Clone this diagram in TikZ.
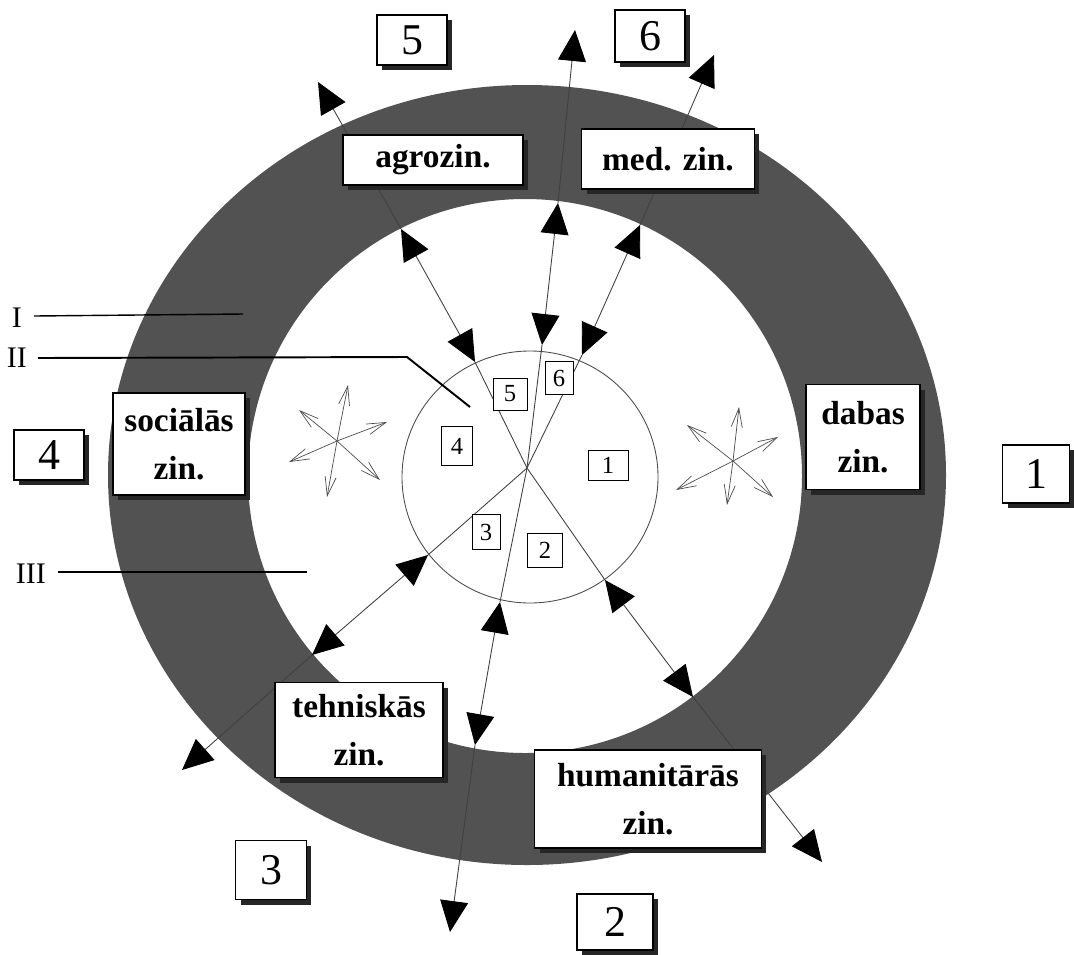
\documentclass[tikz,border=0pt]{standalone}
\usepackage{fontspec}
\setmainfont{Liberation Serif}
\usepackage{tikz}
\usetikzlibrary{arrows.meta,shadows}

\tikzset{
  tri/.tip={Triangle[length=0.62cm, width=0.56cm, color=black]},
  barb/.tip={Straight Barb[length=0.38cm, width=0.22cm]}
}

\begin{document}
\begin{tikzpicture}[x=0.02cm, y=-0.02cm,
  zinbox/.style={draw, fill=white, line width=0.6pt, align=center, inner sep=2pt,
    font=\fontsize{19}{27}\selectfont\bfseries,
    drop shadow={shadow xshift=0.1cm, shadow yshift=-0.1cm, opacity=1, fill=black!85}},
  numbox/.style={zinbox, font=\fontsize{25}{28}\selectfont},
  sectbox/.style={draw, fill=white, line width=0.5pt, inner sep=1pt,
    font=\fontsize{14}{16}\selectfont},
  ray/.style={line width=0.5pt, black!75},
  starray/.style={-barb, line width=0.4pt, black!70},
  roman/.style={font=\fontsize{17}{19}\selectfont}]
  \useasboundingbox (0,0) rectangle (1074,954);

  % Ring (I) between outer ellipse and inner white field
  \fill[black!68, even odd rule] (527,475) ellipse [x radius=419, y radius=390]
    (525,476) circle [radius=277];

  % Inner circle (II)
  \draw[line width=0.5pt, black!70] (530,477) ellipse [x radius=128, y radius=126];

  % Rays from the centre: circle tip, inner edge tip, outer end
  \coordinate (ctr) at (527,468);
  \coordinate (cA) at (475,362); \coordinate (mA) at (401,229); \coordinate (eA) at (318,82);
  \coordinate (cB) at (542,345); \coordinate (mB) at (558,203); \coordinate (eB) at (575,30);
  \coordinate (cC) at (582,355); \coordinate (mC) at (640,225); \coordinate (eC) at (714,55);
  \coordinate (cD) at (605,580); \coordinate (mD) at (693,697); \coordinate (eD) at (822,862);
  \coordinate (cE) at (500,602); \coordinate (mE) at (475,745); \coordinate (eE) at (450,932);
  \coordinate (cF) at (428,555); \coordinate (mF) at (312,655); \coordinate (eF) at (182,770);
  \foreach \r in {A,B,C,D,E,F} {
    \draw[ray] (ctr) -- (c\r);
    \draw[ray, tri-tri] (c\r) -- (m\r);
    \draw[ray, -tri] (m\r) -- (e\r);
  }

  % Stars
  \coordinate (lst) at (337,441);
  \foreach \p in {(348,385),(387,422),(380,480),(327,497),(289,462),(299,410)}
    \draw[starray] (lst) -- \p;
  \coordinate (rst) at (733,461);
  \foreach \p in {(739,407),(778,437),(773,497),(727,505),(676,490),(687,425)}
    \draw[starray] (rst) -- \p;

  % Sector numbers
  \node[sectbox, minimum width=0.68cm, minimum height=0.64cm] (s5) at (510,394) {5};
  \node[sectbox, minimum width=0.56cm, minimum height=0.66cm] (s6) at (559,378) {6};
  \node[sectbox, minimum width=0.62cm, minimum height=0.78cm] (s4) at (457,446) {4};
  \node[sectbox, minimum width=0.80cm, minimum height=0.60cm] (s1) at (608,465) {1};
  \node[sectbox, minimum width=0.56cm, minimum height=0.70cm] (s3) at (486,532) {3};
  \node[sectbox, minimum width=0.70cm, minimum height=0.68cm] (s2) at (545,550) {2};

  % Fields of science
  \node[zinbox, minimum width=3.6cm, minimum height=1.0cm] (agro) at (433,160) {agrozin.};
  \node[zinbox, minimum width=3.46cm, minimum height=1.2cm] (med) at (668,159) {med. zin.};
  \node[zinbox, minimum width=2.64cm, minimum height=2.04cm] (soc) at (179,444) {sociālās\\zin.};
  \node[zinbox, minimum width=2.28cm, minimum height=2.1cm] (dabas) at (863,437) {dabas\\zin.};
  \node[zinbox, minimum width=3.36cm, minimum height=1.9cm] (tehn) at (359,730) {tehniskās\\zin.};
  \node[zinbox, minimum width=4.54cm, minimum height=1.96cm] (hum) at (648,799) {humanitārās\\zin.};

  % Outer numbers
  \node[numbox, minimum width=1.4cm, minimum height=1.0cm] (n5) at (412,40) {5};
  \node[numbox, minimum width=1.4cm, minimum height=1.04cm] (n6) at (650,36) {6};
  \node[numbox, minimum width=1.4cm, minimum height=1.0cm] (n4) at (49,455) {4};
  \node[numbox, minimum width=1.34cm, minimum height=1.16cm] (n1) at (1036,474) {1};
  \node[numbox, minimum width=1.42cm, minimum height=1.18cm] (n3) at (271,870) {3};
  \node[numbox, minimum width=1.52cm, minimum height=1.12cm] (n2) at (615,922) {2};

  % Zone labels
  \node[roman, anchor=east] (lI) at (28,318) {I};
  \node[roman, anchor=east] (lII) at (33,358) {II};
  \node[roman, anchor=east] (lIII) at (52,574) {III};
  \coordinate (pI) at (243,314);
  \coordinate (pII) at (407,357);
  \coordinate (qII) at (470,407);
  \coordinate (pIII) at (307,572);
  \draw[line width=0.8pt] (lI.east) ++(6,-2) -- (pI);
  \draw[line width=1.1pt] (lII.east) ++(5,0) -- (pII) -- (qII);
  \draw[line width=0.8pt] (lIII.east) ++(6,-2) -- (pIII);
\end{tikzpicture}
\end{document}
